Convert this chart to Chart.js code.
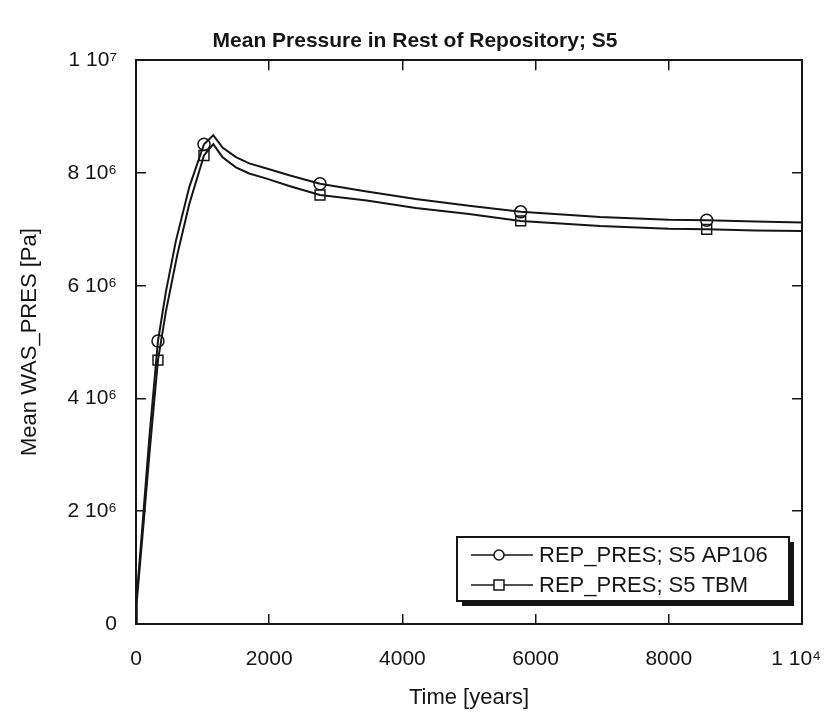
<!DOCTYPE html>
<html><head><meta charset="utf-8">
<script src="https://cdn.jsdelivr.net/npm/chart.js@4/dist/chart.umd.min.js"></script>
<style>html,body{margin:0;padding:0;background:#fff}#wrap{width:830px;height:721px}</style>
</head><body><div id="wrap"><canvas id="c" width="830" height="721"></canvas></div>
<script>
const chartTitle = 'Mean Pressure in Rest of Repository; S5';
const xTitle = 'Time [years]';
const yTitle = 'Mean WAS_PRES [Pa]';
const seriesLabels = ['REP_PRES; S5 AP106', 'REP_PRES; S5 TBM'];
const seriesMarkers = ['circle', 'rect'];

const timeAP106 = [0, 8, 100, 200, 330, 450, 600, 800, 1021, 1160, 1300, 1500, 1700, 1962, 2300, 2763, 3464, 4200, 5000, 5776, 6967, 8000, 8569, 9300, 10000];
const presAP106 = [0, 0.43e6, 1.8e6, 3.3e6, 5.02e6, 5.9e6, 6.8e6, 7.75e6, 8.51e6, 8.67e6, 8.45e6, 8.28e6, 8.17e6, 8.08e6, 7.96e6, 7.81e6, 7.67e6, 7.54e6, 7.42e6, 7.31e6, 7.22e6, 7.17e6, 7.16e6, 7.14e6, 7.12e6];
const timeTBM = [0, 8, 100, 200, 330, 450, 620, 800, 1021, 1160, 1300, 1500, 1700, 1962, 2300, 2763, 3464, 4200, 5000, 5776, 6967, 8000, 8569, 9300, 10000];
const presTBM = [0, 0.35e6, 1.6e6, 3.0e6, 4.68e6, 5.55e6, 6.55e6, 7.45e6, 8.31e6, 8.51e6, 8.28e6, 8.10e6, 7.99e6, 7.90e6, 7.77e6, 7.61e6, 7.51e6, 7.38e6, 7.27e6, 7.15e6, 7.06e6, 7.01e6, 7.00e6, 6.98e6, 6.97e6];
const markerIndices = [4, 8, 15, 19, 22];

const xTickValues = [0, 2000, 4000, 6000, 8000, 10000];
const xTickLabels = ['0', '2000', '4000', '6000', '8000', '1 10\u2074  '];
const yTickValues = [0, 2e6, 4e6, 6e6, 8e6, 1e7];
const yTickLabels = ['0', '2 10\u2076', '4 10\u2076', '6 10\u2076', '8 10\u2076', '1 10\u2077'];

const INK = '#151515';
const FONT = "'Liberation Sans', Arial, sans-serif";

function toPoints(ts, ps) { return ts.map((t, i) => ({x: t, y: ps[i]})); }
function radii(n, r) { return Array.from({length: n}, (_, i) => markerIndices.includes(i) ? r : 0); }
function labelFor(values, labels) { return v => { const i = values.indexOf(v); return i >= 0 ? labels[i] : ''; }; }
function noPad(s) { s.paddingLeft = 0; s.paddingRight = 0; s.paddingTop = 0; s.paddingBottom = 0; }

const tickGrid = {display: true, drawOnChartArea: false, drawTicks: true, tickLength: -10, color: INK, lineWidth: 1.5};
const frame = {display: true, color: INK, width: 2};

const legendPlugin = {
  id: 'boxLegend',
  afterDraw(chart) {
    const ctx = chart.ctx;
    const L = 457, T = 537, R = 789, B = 601, S = 5;
    ctx.save();
    ctx.fillStyle = INK;
    ctx.fillRect(L + S, T + S, R - L, B - T);
    ctx.fillStyle = '#fff';
    ctx.fillRect(L, T, R - L, B - T);
    ctx.strokeStyle = INK; ctx.lineWidth = 2;
    ctx.strokeRect(L, T, R - L, B - T);
    const rows = [555, 585];
    chart.data.datasets.forEach((ds, i) => {
      const y = rows[i];
      ctx.strokeStyle = INK; ctx.lineWidth = 1.5;
      ctx.beginPath(); ctx.moveTo(471, y); ctx.lineTo(533, y); ctx.stroke();
      ctx.fillStyle = '#fff';
      if (ds.pointStyle === 'circle') {
        ctx.beginPath(); ctx.arc(499, y, 5, 0, Math.PI * 2); ctx.fill(); ctx.stroke();
      } else {
        ctx.fillRect(494, y - 5, 10, 10); ctx.strokeRect(494, y - 5, 10, 10);
      }
      ctx.fillStyle = INK;
      ctx.font = '22px ' + FONT;
      ctx.textBaseline = 'middle'; ctx.textAlign = 'left';
      ctx.fillText(ds.label, 539, y + 1);
    });
    ctx.restore();
  }
};

const datasets = [
  {label: seriesLabels[0], data: toPoints(timeAP106, presAP106), pointStyle: seriesMarkers[0], pointRadius: radii(timeAP106.length, 6)},
  {label: seriesLabels[1], data: toPoints(timeTBM, presTBM), pointStyle: seriesMarkers[1], pointRadius: radii(timeTBM.length, 7)}
].map(d => Object.assign(d, {borderColor: INK, borderWidth: 2, backgroundColor: '#fff', pointBackgroundColor: 'rgba(255,255,255,0)', pointBorderColor: INK, pointBorderWidth: 1.5, pointHoverRadius: 0, tension: 0, fill: false}));

new Chart(document.getElementById('c'), {
  type: 'line',
  data: {datasets},
  options: {
    responsive: false, animation: false, devicePixelRatio: 1,
    layout: {padding: {left: 0, right: 0, top: 0, bottom: 0}},
    plugins: {
      legend: {display: false}, tooltip: {enabled: false},
      title: {display: true, text: chartTitle, color: INK, font: {family: FONT, size: 21, weight: 'bold'}, padding: {top: 29, bottom: 6}}
    },
    scales: {
      x: {type: 'linear', position: 'bottom', min: 0, max: 10000,
        afterBuildTicks: s => { s.ticks = xTickValues.map(v => ({value: v})); },
        ticks: {callback: labelFor(xTickValues, xTickLabels), color: INK, font: {family: FONT, size: 21}, padding: 33, maxRotation: 0, autoSkip: false},
        grid: tickGrid, border: frame,
        title: {display: true, text: xTitle, color: INK, font: {family: FONT, size: 22}, padding: {top: 0, bottom: 10}},
        afterFit: s => { s.height = 97; noPad(s); }},
      x2: {type: 'linear', position: 'top', min: 0, max: 10000,
        afterBuildTicks: s => { s.ticks = xTickValues.map(v => ({value: v})); },
        ticks: {display: false}, grid: tickGrid, border: frame,
        afterFit: s => { s.height = 0; noPad(s); }},
      y: {type: 'linear', position: 'left', min: 0, max: 1e7,
        afterBuildTicks: s => { s.ticks = yTickValues.map(v => ({value: v})); },
        ticks: {callback: labelFor(yTickValues, yTickLabels), color: INK, font: {family: FONT, size: 21}, padding: 29},
        grid: tickGrid, border: frame,
        title: {display: true, text: yTitle, color: INK, font: {family: FONT, size: 22}, padding: {top: 17, bottom: 0}},
        afterFit: s => { s.width = 136; noPad(s); }},
      y2: {type: 'linear', position: 'right', min: 0, max: 1e7,
        afterBuildTicks: s => { s.ticks = yTickValues.map(v => ({value: v})); },
        ticks: {display: false}, grid: tickGrid, border: frame,
        afterFit: s => { s.width = 28; noPad(s); }}
    }
  },
  plugins: [legendPlugin]
});
</script>
</body></html>
